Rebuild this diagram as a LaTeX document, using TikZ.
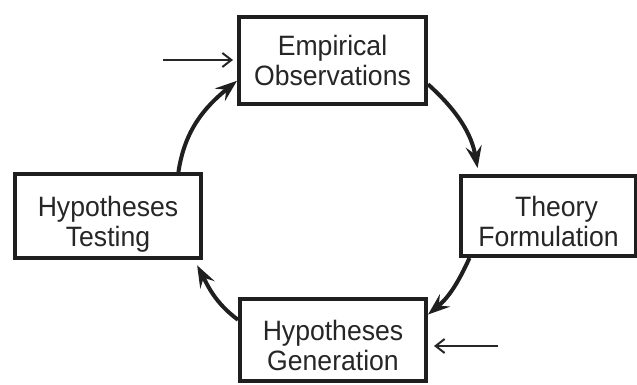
\documentclass[tikz,border=0pt]{standalone}
\usepackage{fontspec}
\setmainfont{Liberation Sans}[FakeStretch=0.95]
\usetikzlibrary{arrows.meta}
% two centred lines, last baseline lowered by #1 below the node centre
\newcommand{\stagetext}[3]{\raisebox{-#1}[0pt][0pt]{%
  \begin{tabular}[b]{@{}c@{}}#2\\#3\end{tabular}}}
\begin{document}
\begin{tikzpicture}[x=1pt,y=1pt,
  stage/.style={draw=black!88, line width=4pt, fill=white,
    inner sep=0pt, text=black!85, font=\fontsize{28}{30}\selectfont},
  cycle/.style={line width=4pt, draw=black!88,
    -{Stealth[length=22pt,width=16pt,inset=8pt]}},
  feed/.style={line width=2pt, draw=black!85,
    -{Straight Barb[length=9pt,width=14pt,line width=2pt]}}]
  \useasboundingbox (0,0) rectangle (637,385);

  % the four stages of the research cycle
  \node[stage, minimum width=187pt, minimum height=87pt] (eo) at (332.5,324.5)
    {\stagetext{25.5pt}{Empirical}{Observations}};
  \node[stage, minimum width=175pt, minimum height=80pt] (tf) at (548.5,169)
    {\stagetext{30.5pt}{\hspace*{16pt}Theory}{Formulation}};
  \node[stage, minimum width=186pt, minimum height=82pt] (hg) at (333,45)
    {\stagetext{31pt}{Hypotheses}{Generation}};
  \node[stage, minimum width=186pt, minimum height=84pt] (ht) at (108,169)
    {\stagetext{31pt}{Hypotheses}{Testing}};

  % clockwise arcs joining the stages
  \draw[cycle, shorten >=6pt] (eo.-14.4) to[out=-42, in=100] (tf.149);
  \draw[cycle] (tf.-152.7) to[out=-114.7, in=39.7] (hg.15.9);
  \draw[cycle, shorten >=6pt] (hg.168.2) to[out=143.4, in=-62.3] (ht.-27.9);
  \draw[cycle] (ht.32.2) to[out=81.4, in=219.3] (eo.-168.5);

  % entry points into the cycle
  \coordinate (in1) at (163,325);
  \coordinate (in2) at (498,39);
  \draw[feed, shorten >=4pt] (in1) -- (in1 -| eo.west);
  \draw[feed, shorten >=6pt] (in2) -- (in2 -| hg.east);
\end{tikzpicture}
\end{document}
